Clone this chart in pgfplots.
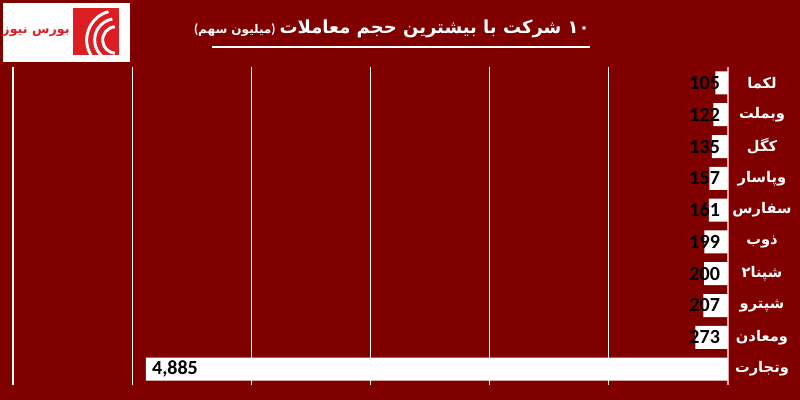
\documentclass[border=0pt]{standalone}
\usepackage{pgfplots}
\pgfplotsset{compat=1.18}
\usepackage{fontspec}
\setmainfont{Carlito}
\newfontfamily\arabicfont[Script=Arabic]{DejaVu Sans}
\TeXXeTstate=1
\newcommand\ar[1]{{\arabicfont\bfseries\beginR #1\endR}}
\definecolor{bg}{RGB}{128,0,0}
\definecolor{axpink}{RGB}{225,165,165}
\definecolor{logored}{RGB}{220,30,35}
\begin{document}
\begin{tikzpicture}
\fill[bg] (0,0) rectangle (600pt,-300pt);
\useasboundingbox (0,0) rectangle (600pt,-300pt);
% logo
\fill[white] (2.25pt,-2.25pt) rectangle (97.5pt,-46.5pt);
\fill[logored] (55pt,-6pt) rectangle (89pt,-41pt);
\begin{scope}
\clip (55pt,-6pt) rectangle (89pt,-41pt);
\draw[white, line width=2.2pt] (87pt,-30pt) ++(95:10pt) arc (95:265:10pt);
\draw[white, line width=2.2pt] (87pt,-30pt) ++(100:16pt) arc (100:260:16pt);
\draw[white, line width=2.2pt] (87pt,-30pt) ++(105:22pt) arc (105:255:22pt);
\end{scope}
\node[text=logored, font=\fontsize{9.5}{11}\selectfont] at (27pt,-24pt) {\ar{بورس نیوز}};
% title
\node[text=white, anchor=east, inner sep=0pt] at (442.5pt,-22pt)
  {{\fontsize{10}{12}\selectfont\bfseries(\ar{\fontsize{9}{11}\selectfont میلیون سهم})}\hspace{3pt}{\fontsize{13.5}{16}\selectfont\ar{۱۰ شرکت با بیشترین حجم معاملات}}};
\draw[white, line width=1.1pt] (159pt,-35.25pt) -- (442.5pt,-35.25pt);
\begin{axis}[
  at={(9.75pt,-288.75pt)}, anchor=south west,
  scale only axis, width=536.25pt, height=238.5pt,
  x dir=reverse, xmin=0, xmax=6000,
  y dir=reverse, ymin=-0.5, ymax=9.5,
  xtick={1000,2000,3000,4000,5000,6000}, xticklabels={},
  xmajorgrids, grid style={white, line width=0.9pt},
  extra x ticks={0}, extra x tick labels={},
  extra x tick style={grid style={axpink, line width=1pt}},
  ytick={0,1,2,3,4,5,6,7,8,9},
  yticklabels={{\ar{لکما}},{\ar{وبملت}},{\ar{کگل}},{\ar{وپاسار}},{\ar{سفارس}},{\ar{ذوب}},{\ar{شپنا۲}},{\ar{شپترو}},{\ar{ومعادن}},{\ar{وتجارت}}},
  yticklabel pos=right,
  yticklabel style={anchor=center, xshift=25.5pt, text=white, font=\fontsize{11}{13}\selectfont},
  major tick length=0, axis line style={draw=none},
  clip=false,
]
\addplot[xbar, fill=white, draw=none, bar width=17.25pt] coordinates {
 (105,0) (122,1) (135,2) (157,3) (161,4) (199,5) (200,6) (207,7) (273,8) (4885,9)};
\addplot[draw=none, mark=none, nodes near coords, point meta=explicit symbolic,
  every node near coord/.style={anchor=east, inner sep=0.5pt, text=black, font=\fontsize{15}{18}\selectfont\bfseries}]
  coordinates {(60,0) [105] (60,1) [122] (60,2) [135] (60,3) [157] (60,4) [161]
  (60,5) [199] (60,6) [200] (60,7) [207] (60,8) [273]};
\addplot[draw=none, mark=none, nodes near coords, point meta=explicit symbolic,
  every node near coord/.style={anchor=west, xshift=4pt, inner sep=0.5pt, text=black, font=\fontsize{15}{18}\selectfont\bfseries}]
  coordinates {(4885,9) [{4,885}]};
\end{axis}
\end{tikzpicture}
\end{document}
